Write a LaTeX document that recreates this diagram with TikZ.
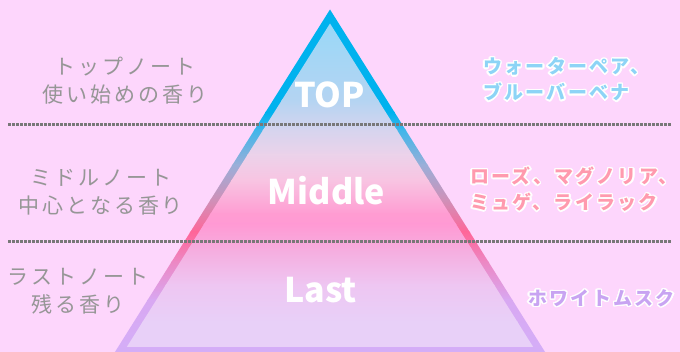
\documentclass[tikz,border=0pt]{standalone}
\usepackage{fontspec}
\usepackage{contour}
\usetikzlibrary{positioning}
\newfontfamily\notefont[LetterSpace=14]{Noto Sans CJK JP}
\newfontfamily\scentfont[LetterSpace=12]{Noto Sans CJK JP}
\newfontfamily\layerfont{Noto Sans CJK JP}
\contourlength{1.3pt}
\contournumber{24}

\definecolor{bgpink}{HTML}{FDD6FC}
\definecolor{notegray}{HTML}{969696}
\definecolor{dotgray}{HTML}{787878}
\definecolor{topblue}{HTML}{8DD4F6}
\definecolor{midpink}{HTML}{FF9AAE}
\definecolor{lastlav}{HTML}{C8A4F2}
% edge colours, top to bottom
\definecolor{bA}{HTML}{00B2EE}
\definecolor{bB}{HTML}{40B6EA}
\definecolor{bC}{HTML}{9AAED8}
\definecolor{bD}{HTML}{D090B8}
\definecolor{bE}{HTML}{FF6699}
\definecolor{bF}{HTML}{EC88C4}
\definecolor{bG}{HTML}{D8A8F2}
\definecolor{bH}{HTML}{D4AEF8}
% inner colours, top to bottom
\definecolor{fA}{HTML}{98D8F8}
\definecolor{fB}{HTML}{B4D4F2}
\definecolor{fC}{HTML}{D6D4EE}
\definecolor{fD}{HTML}{ECD2EA}
\definecolor{fE}{HTML}{F8C4E2}
\definecolor{fF}{HTML}{FF9CD2}
\definecolor{fG}{HTML}{FF9AD4}
\definecolor{fH}{HTML}{F6ACDE}
\definecolor{fI}{HTML}{EEC6F2}
\definecolor{fJ}{HTML}{E8D0F8}

\tikzset{
  notelabel/.style={
    font = \notefont\fontsize{21}{27.5}\selectfont,
    text = notegray,
    align = center,
    inner sep = 0pt
  },
  layerlabel/.style={
    font = \layerfont\bfseries\fontsize{34}{34}\selectfont,
    text = white,
    inner sep = 0pt
  },
  scentlabel/.style={
    font = \scentfont\bfseries\fontsize{19}{26}\selectfont,
    anchor = west,
    align = left,
    inner sep = 0pt
  },
  sepdot/.style={
    fill = dotgray
  }
}

\begin{document}
\begin{tikzpicture}[x=1pt, y=-1pt]
    \useasboundingbox (0,0) rectangle (680,352);
    \fill[bgpink] (0,0) rectangle (680,352);

    % pyramid edge
    \begin{scope}
        \clip (330,9.5) -- (546.3,354) -- (113.7,354) -- cycle;
        \foreach \ya/\ca/\yb/\cb in {0/bA/112/bA, 112/bA/130/bB, 130/bB/165/bC,
                165/bC/200/bD, 200/bD/232/bE, 232/bE/262/bF, 262/bF/300/bG, 300/bG/354/bH}
            \shade[top color=\ca, bottom color=\cb] (100,\ya) rectangle (560,\yb+0.6);
    \end{scope}
    % pyramid inside
    \begin{scope}
        \clip (330,23.5) -- (533.2,347) -- (126.8,347) -- cycle;
        \foreach \ya/\ca/\yb/\cb in {20/fA/100/fB, 100/fB/130/fC, 130/fC/155/fD,
                155/fD/180/fE, 180/fE/214/fF, 214/fF/224/fG, 224/fG/248/fH,
                248/fH/285/fI, 285/fI/322/fJ, 322/fJ/352/fJ}
            \shade[top color=\ca, bottom color=\cb] (100,\ya) rectangle (560,\yb+0.6);
    \end{scope}

    % dotted separators
    \foreach \y in {123,240}
        \foreach \x in {8,12,...,671}
            \path[sepdot] (\x,\y) rectangle ++(3,3);

    \node[layerlabel] (toplayer) at (329.5,95) {TOP};
    \node[layerlabel] (midlayer) at (326.5,190.5) {Middle};
    \node[layerlabel] (lastlayer) at (320.5,290) {Last};

    \node[notelabel] (topnote) at (125,80.5) {トップノート\\使い始めの香り};
    \node[notelabel] (midnote) at (101,192) {ミドルノート\\中心となる香り};
    \node[notelabel] (lastnote) at (78,291) {ラストノート\\残る香り};

    \node[scentlabel, text=topblue] (topscent) at (483,80)
        {\contour{white}{ウォーターペア、}\\\contour{white}{ブルーバーベナ}};
    \node[scentlabel, text=midpink] (midscent) at (470,190)
        {\contour{white}{ローズ、マグノリア、}\\\contour{white}{ミュゲ、ライラック}};
    \node[scentlabel, text=lastlav] (lastscent) at (528,299)
        {\contour{white}{ホワイトムスク}};
\end{tikzpicture}
\end{document}
